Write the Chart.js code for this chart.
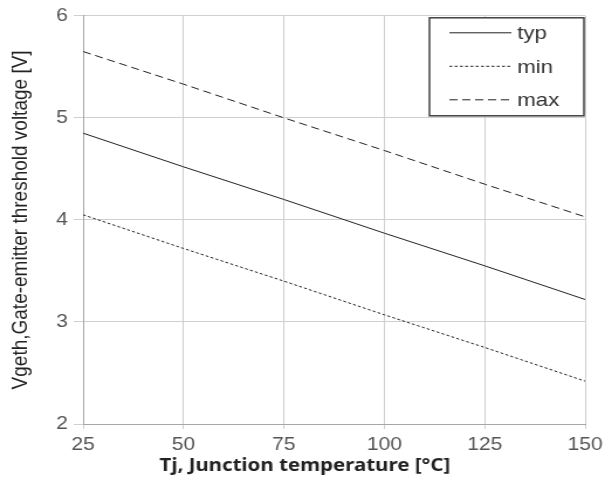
<!DOCTYPE html>
<html>
<head>
<meta charset="utf-8">
<script src="https://cdn.jsdelivr.net/npm/chart.js@4"></script>
<style>
  html, body { margin: 0; padding: 0; background: #fff; overflow: hidden; }
  /* the reference picture is stretched sideways, so draw narrower and widen it */
  #wrap { width: 517px; height: 484px; transform: scaleX(1.1702); transform-origin: 0 0; }
</style>
</head>
<body>
<div id="wrap"><canvas id="vgeChart"></canvas></div>
<script>
//DATA
const temps = [25, 50, 75, 100, 125, 150];
const vTyp = [4.85, 4.52, 4.20, 3.87, 3.55, 3.22];
const vMin = [4.05, 3.72, 3.40, 3.07, 2.75, 2.42];
const vMax = [5.65, 5.33, 5.00, 4.68, 4.35, 4.03];
const seriesNames = ['typ', 'min', 'max'];
const seriesDash = [[], [2.5, 2], [7, 4]];
const xTitle = 'Tj, Junction temperature [°C]';
const yTitle = 'Vgeth,Gate-emitter threshold voltage [V]';

const toPoints = (arr) => arr.map((v, i) => ({ x: temps[i], y: v }));

//LEGEND BOX (inside the plot, top right) + x title centred on the page
const boxLegend = {
    id: 'boxLegend',
    afterDraw(chart) {
        const ctx = chart.ctx;
        const area = chart.chartArea;
        const w = 132, h = 98;
        const x0 = area.right - w - 1, y0 = area.top + 2;
        ctx.save();
        ctx.fillStyle = '#fff';
        ctx.fillRect(x0, y0, w, h);
        ctx.strokeStyle = '#404040';
        ctx.lineWidth = 1.5;
        ctx.strokeRect(x0, y0, w, h);
        ctx.font = '19px "Liberation Sans", Arial, sans-serif';
        ctx.fillStyle = '#333';
        ctx.textBaseline = 'middle';
        chart.data.datasets.forEach((ds, i) => {
            const y = y0 + 15 + i * 33.5;
            ctx.beginPath();
            ctx.setLineDash(ds.borderDash);
            ctx.lineWidth = 1;
            ctx.strokeStyle = '#222';
            ctx.moveTo(x0 + 17, y);
            ctx.lineTo(x0 + 70, y);
            ctx.stroke();
            ctx.setLineDash([]);
            ctx.fillText(ds.label, x0 + 75, y + 1);
        });

        ctx.font = 'bold 17.5px "Noto Sans", "Open Sans", sans-serif';
        ctx.fillStyle = '#222';
        ctx.textAlign = 'center';
        ctx.textBaseline = 'alphabetic';
        ctx.fillText(xTitle, chart.width / 2 + 2, area.bottom + 47);
        ctx.restore();
    }
};

//CONFIG
const vgeConfig = {
    type: 'line',
    data: {
        datasets: [vTyp, vMin, vMax].map((arr, i) => ({
            label: seriesNames[i],
            data: toPoints(arr),
            borderColor: '#222',
            borderWidth: 1,
            borderDash: seriesDash[i],
            pointRadius: 0,
            tension: 0,
            fill: false
        }))
    },
    options: {
        responsive: true,
        maintainAspectRatio: false,
        animation: false,
        layout: { padding: { top: 8, right: 17, left: 0, bottom: 0 } },
        plugins: {
            legend: { display: false },
            tooltip: { enabled: false }
        },
        scales: {
            x: {
                type: 'linear',
                min: 25,
                max: 150,
                ticks: {
                    stepSize: 25,
                    color: '#555',
                    font: { family: '"Liberation Sans", Arial, sans-serif', size: 18 },
                    padding: 5
                },
                grid: { color: '#cfcfcf', tickLength: 5, lineWidth: 1 },
                border: { color: '#a6a6a6' },
                afterFit(scale) {
                    scale.height = 60;
                    scale.paddingRight = 0;
                    scale.paddingLeft = 0;
                }
            },
            y: {
                min: 2,
                max: 6,
                ticks: {
                    stepSize: 1,
                    color: '#555',
                    font: { family: '"Liberation Sans", Arial, sans-serif', size: 18 },
                    padding: 5
                },
                grid: { color: '#cfcfcf', tickLength: 8, lineWidth: 1 },
                border: { color: '#a6a6a6' },
                title: {
                    display: true,
                    text: yTitle,
                    color: '#222',
                    font: { family: '"Liberation Sans", Arial, sans-serif', size: 19 },
                    padding: { top: 6, bottom: 0 }
                },
                afterFit(scale) { scale.width = 71; }
            }
        }
    },
    plugins: [boxLegend]
};

//RENDER
const vgeChart = new Chart(
    document.getElementById('vgeChart'),
    vgeConfig
);
</script>
</body>
</html>
